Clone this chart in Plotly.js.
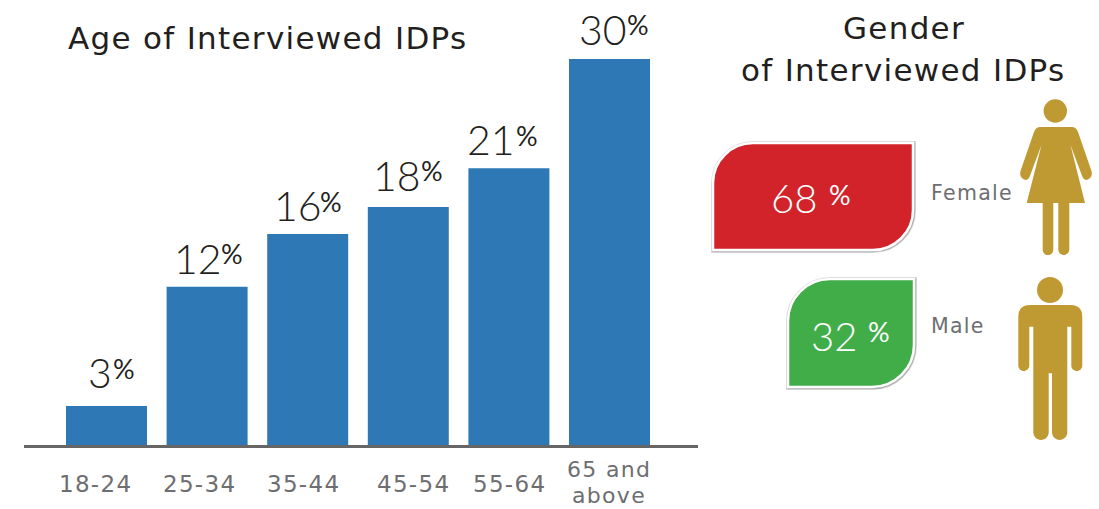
<!DOCTYPE html>
<html><head><meta charset="utf-8">
<script src="https://cdn.plot.ly/plotly-3.0.1.min.js"></script>
<style>html,body{margin:0;padding:0;background:#fff;overflow:hidden}#c{width:1099px;height:509px}
text.annotation-text[style*="DejaVu"]{letter-spacing:1.3px}</style>
</head><body><div id="c"></div>
<script>
const ageGroups = ['18-24','25-34','35-44','45-54','55-64','65 and above'];
const agePercent = [3,12,16,18,21,30];
const barHeights = [3.03,12.3,16.4,18.5,21.5,30];
const tickLines = [['18-24'],['25-34'],['35-44'],['45-54'],['55-64'],['65 and','above']];
const tickCenters = [95,199,303,413,509,609];
const genderLabels = ['Female','Male'];
const genderPercent = [68,32];
const numShiftX = [-7,-9,-10,-11,-18,-6.5];
const numShiftY = [33.5,28.5,28.5,31.5,28.5,29.5];
const pctShiftX = [17.5,24.5,23.5,23.5,18.5,28.5];
const pctShiftY = [37.5,33,32.5,36,32.5,34];

const W=1099,H=509;
const FONT='"DejaVu Sans", sans-serif', THIN='Lato, "Open Sans", sans-serif';
const GREY='#6d6e71', DARK='#231f20', GOLD='#BF9A33';

function box(x0,y0,x1,y1,r){
  const k=r*0.45;
  return `M${x0},${y0+r} C${x0},${y0+k} ${x0+k},${y0} ${x0+r},${y0} L${x1},${y0} L${x1},${y1-r} C${x1},${y1-k} ${x1-k},${y1} ${x1-r},${y1} L${x0},${y1} Z`;
}
function px(path,fill,line,w){
  return {type:'path',xref:'x2',yref:'y2',path,fillcolor:fill,
    line:{color:line||fill,width:w==null?0:w},layer:'above'};
}
function disc(cx,cy,r){
  return {type:'circle',xref:'x2',yref:'y2',x0:cx-r,x1:cx+r,y0:cy-r,y1:cy+r,fillcolor:GOLD,line:{width:0},layer:'above'};
}
// rounded foot / hand cap, running from the right edge to the left edge
function cap(xr,xl,y){
  const r=(xr-xl)/2,k=r*0.55,m=(xr+xl)/2;
  return `L${xr},${y-r} C${xr},${y-r+k} ${m+k},${y} ${m},${y} C${m-k},${y} ${xl},${y-r+k} ${xl},${y-r} `;
}
const femaleBody = 'M1040,127 L1072,127 Q1076,127 1078,132 L1091.5,171 Q1093,177 1088,179.5 Q1084,181 1082.5,177 L1070.5,145 L1085,203 L1069.3,203 '
  + cap(1069.3,1058.3,255) + 'L1058.3,203 L1053.3,203 ' + cap(1053.3,1042.7,255)
  + 'L1042.7,203 L1026.7,203 L1041.5,145 L1029.5,177 Q1028,181 1024,179.5 Q1019,177 1020.5,171 L1034,132 Q1036,127 1040,127 Z';
const maleBody = 'M1030,305 L1070.5,305 Q1082.3,305 1082.3,317 ' + cap(1082.3,1071.3,371)
  + 'L1071.3,326.7 L1067.3,326.7 ' + cap(1067.3,1052,440) + 'L1052,373.3 L1048.7,373.3 ' + cap(1048.7,1033.3,440)
  + 'L1033.3,326.7 L1029.3,326.7 ' + cap(1029.3,1018.3,371) + 'L1018.3,317 Q1018.3,305 1030,305 Z';

const femaleBox = box(713,143,913,250,40), maleBox = box(788,279,914,387,42);
const femaleShade = box(713.5,143.5,913.5,250.5,40), maleShade = box(788.5,279.5,914.5,387.5,42);
const shapes = [
  px(femaleShade,'rgba(0,0,0,0)','rgba(90,90,90,0.2)',5),
  px(femaleShade,'rgba(0,0,0,0)','rgba(90,90,90,0.35)',3.5),
  px(femaleBox,'#D2232A','#ffffff',2.5),
  px(maleShade,'rgba(0,0,0,0)','rgba(90,90,90,0.2)',5),
  px(maleShade,'rgba(0,0,0,0)','rgba(90,90,90,0.35)',3.5),
  px(maleBox,'#41AD49','#ffffff',2.5),
  px(femaleBody,GOLD),disc(1055.3,111,11.7),px(maleBody,GOLD),disc(1050,290,13)
];

function note(text,x,y,size,color,family,weight){
  return {xref:'x2',yref:'y2',x,y,text,showarrow:false,xanchor:'center',yanchor:'middle',
    font:{family:family||FONT,size,color,weight:weight||400}};
}
const annotations = [
  note('Age of Interviewed IDPs',268,38,31,DARK),
  note('Gender',904,28,31,DARK),
  note('of Interviewed IDPs',903,70,31,DARK),
  note(genderLabels[0],972,193,20.5,GREY),
  note(genderLabels[1],958,326,20.5,GREY),
  note(String(genderPercent[0]),793.5,198,40,'#fff',THIN,300),
  note('%',839.5,194,27,'#fff',THIN,400),
  note(String(genderPercent[1]),834,336,40,'#fff',THIN,300),
  note('%',879,331,27,'#fff',THIN,400)
];
tickLines.forEach((lines,i)=>{
  if(lines.length===1) annotations.push(note(lines[0],tickCenters[i],484,23,GREY));
  else lines.forEach((t,j)=>annotations.push(note(t,tickCenters[i],469+j*26.5,22,GREY)));
});
agePercent.forEach((v,i)=>{
  annotations.push({xref:'x',yref:'y',x:i,y:barHeights[i],xshift:numShiftX[i],yshift:numShiftY[i],text:String(v),
    showarrow:false,xanchor:'center',yanchor:'middle',font:{family:THIN,size:41,color:DARK,weight:300}});
  annotations.push({xref:'x',yref:'y',x:i,y:barHeights[i],xshift:pctShiftX[i],yshift:pctShiftY[i],text:'%',
    showarrow:false,xanchor:'center',yanchor:'middle',font:{family:THIN,size:27,color:DARK,weight:400}});
});

const step=100.6, c0=106.5;
const data=[
 {type:'bar',x:ageGroups.map((_,i)=>i),y:barHeights,width:81/step,
  marker:{color:'#2E79B5',line:{width:0}},hoverinfo:'skip'},
 {type:'scatter',x:[],y:[],xaxis:'x2',yaxis:'y2',hoverinfo:'skip'}
];
const layout={
 width:W,height:H,margin:{l:0,r:0,t:0,b:0,pad:0},showlegend:false,
 paper_bgcolor:'#fff',plot_bgcolor:'rgba(0,0,0,0)',
 xaxis:{domain:[24/W,698/W],range:[(24-c0)/step,(698-c0)/step],showgrid:false,zeroline:false,
   showticklabels:false,ticks:'',showline:true,linecolor:'#666666',linewidth:2.5,anchor:'y'},
 yaxis:{domain:[(H-445)/H,1],range:[0,445/12.87],showgrid:false,zeroline:false,showticklabels:false,ticks:'',showline:false},
 xaxis2:{domain:[0,1],range:[0,W],visible:false,anchor:'y2',fixedrange:true},
 yaxis2:{domain:[0,1],range:[H,0],visible:false,anchor:'x2',fixedrange:true},
 shapes,annotations
};
Plotly.newPlot('c',data,layout,{displayModeBar:false,staticPlot:true});
</script></body></html>
